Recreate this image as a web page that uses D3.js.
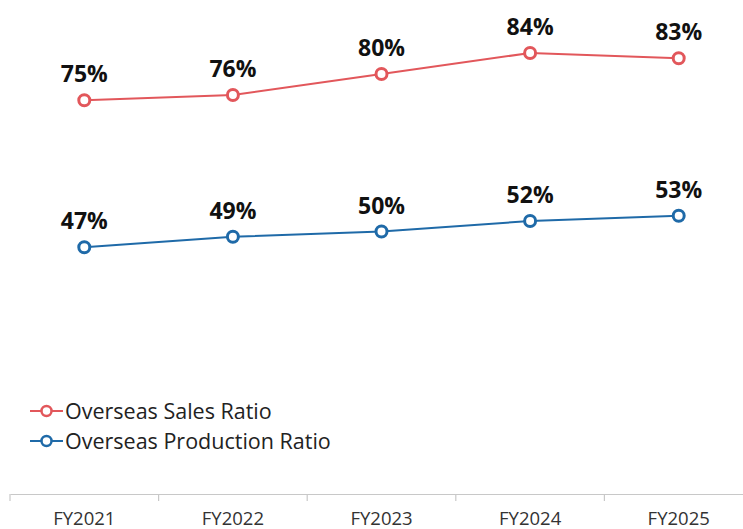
<!DOCTYPE html>
<html>
<head>
<meta charset="utf-8">
<script src="https://cdn.jsdelivr.net/npm/d3@7"></script>
<style>
  body { margin: 0; background: #fff; }
  svg { font-family: "Open Sans", "Noto Sans", sans-serif; }
</style>
</head>
<body>
<div id="chart"></div>
<script>
const years = ['FY2021', 'FY2022', 'FY2023', 'FY2024', 'FY2025'];
const salesRatio = [75, 76, 80, 84, 83];
const productionRatio = [47, 49, 50, 52, 53];
const seriesNames = ['Overseas Sales Ratio', 'Overseas Production Ratio'];
const seriesColors = ['#e2575b', '#1f6aa8'];

const width = 743, height = 529;
const margin = { left: 10, right: -10, top: 0, bottom: 35 };

const svg = d3.select('#chart').append('svg')
  .attr('width', width)
  .attr('height', height);

const x = d3.scaleBand().domain(years).range([margin.left, width - margin.right]);
const y = d3.scaleLinear().domain([0, 100]).range([height - margin.bottom, height - margin.bottom - 525]);

// x axis
const xAxis = svg.append('g')
  .attr('transform', `translate(0, ${height - margin.bottom})`)
  .call(d3.axisBottom(x).tickSize(0).tickPadding(18));
xAxis.select('.domain').attr('stroke', '#c8c8c8').attr('stroke-width', 1.2);
xAxis.selectAll('text').attr('font-size', 18.5).attr('fill', '#333')
  .attr('font-family', '"Open Sans", sans-serif');

// band boundary ticks
svg.append('g').selectAll('line')
  .data(years)
  .join('line')
  .attr('x1', d => x(d)).attr('x2', d => x(d))
  .attr('y1', height - margin.bottom).attr('y2', height - margin.bottom + 7)
  .attr('stroke', '#c8c8c8').attr('stroke-width', 1.2);

const series = [salesRatio, productionRatio];
const cx = d => x(d) + x.bandwidth() / 2;

series.forEach((vals, i) => {
  const pts = years.map((yr, j) => ({ yr, v: vals[j] }));
  const line = d3.line().x(d => cx(d.yr)).y(d => y(d.v));
  const g = svg.append('g');
  g.append('path').datum(pts)
    .attr('d', line)
    .attr('fill', 'none')
    .attr('stroke', seriesColors[i])
    .attr('stroke-width', 2);
  g.selectAll('circle').data(pts).join('circle')
    .attr('cx', d => cx(d.yr)).attr('cy', d => y(d.v))
    .attr('r', 5.5)
    .attr('fill', '#fff')
    .attr('stroke', seriesColors[i])
    .attr('stroke-width', 3);
  g.selectAll('text').data(pts).join('text')
    .attr('x', d => cx(d.yr)).attr('y', d => y(d.v) - 18)
    .attr('text-anchor', 'middle')
    .attr('font-size', 23)
    .attr('font-weight', 'bold')
    .attr('fill', '#111')
    .text(d => d.v + '%');
});

// legend
const legend = svg.append('g').attr('transform', 'translate(30, 411)');
seriesNames.forEach((name, i) => {
  const row = legend.append('g').attr('transform', `translate(0, ${i * 30})`);
  row.append('line').attr('x1', 0).attr('x2', 33).attr('y1', 0).attr('y2', 0)
    .attr('stroke', seriesColors[i]).attr('stroke-width', 2);
  row.append('circle').attr('cx', 16.5).attr('cy', 0).attr('r', 5)
    .attr('fill', '#fff').attr('stroke', seriesColors[i]).attr('stroke-width', 2.5);
  row.append('text').attr('x', 35).attr('y', 7.5)
    .attr('font-size', 21.5).attr('fill', '#222')
    .text(name);
});
</script>
</body>
</html>
